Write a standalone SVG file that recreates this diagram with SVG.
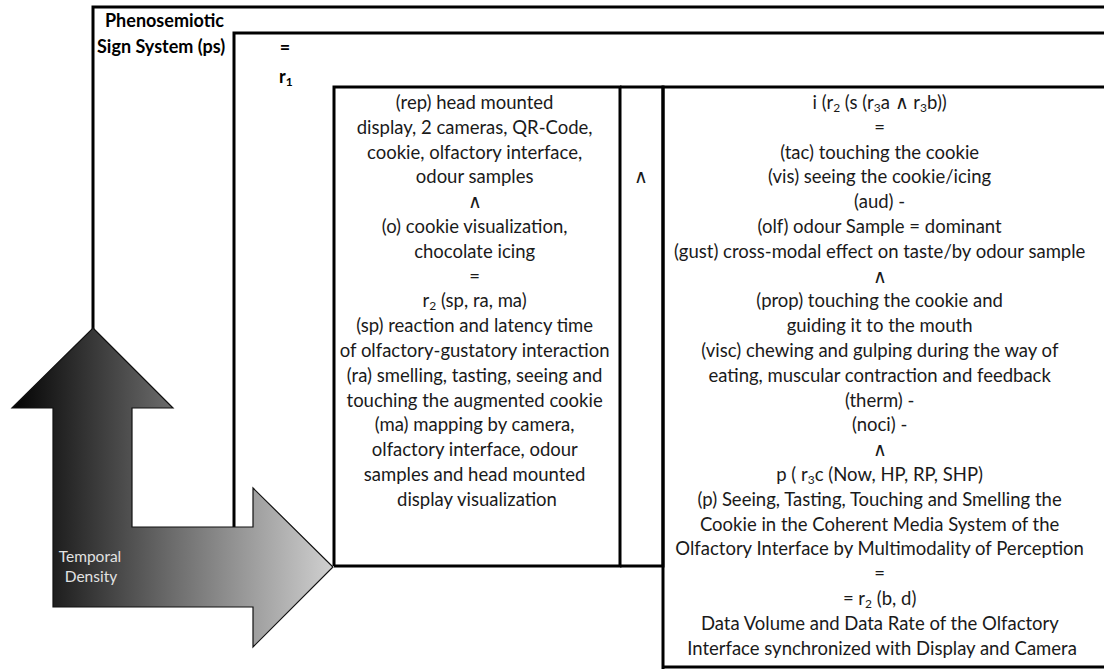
<svg xmlns="http://www.w3.org/2000/svg" width="1104" height="669" viewBox="0 0 1104 669">
<defs>
<linearGradient id="ag" gradientUnits="userSpaceOnUse" x1="12" y1="0" x2="333" y2="0">
<stop offset="0" stop-color="#030303"/>
<stop offset="0.5" stop-color="#6c6c6c"/>
<stop offset="1" stop-color="#d0d0d0"/>
</linearGradient>
<style>
.ln{fill:none;stroke:#000;stroke-width:3}
.t{font-family:Lato,"Open Sans","Liberation Sans",sans-serif;font-size:18.5px;fill:#1a1a1a;text-anchor:middle}
.h{font-family:Lato,"Open Sans","Liberation Sans",sans-serif;font-size:18px;font-weight:bold;fill:#000}
.s{font-size:12px}
</style>
</defs>
<rect width="1104" height="669" fill="#fff"/>
<g id="frame-ps">
<polyline class="ln" points="93,330 93,7 1106,7"/>
<text class="h" x="105" y="27">Phenosemiotic</text>
<text class="h" x="97" y="53">Sign System (ps)</text>
</g>
<g id="frame-r1">
<polyline class="ln" points="234,528 234,33 1106,33"/>
<text class="h" x="285" y="54" text-anchor="middle" font-weight="normal">=</text>
<text class="h" x="279" y="83">r<tspan class="s" baseline-shift="-3">1</tspan></text>
</g>
<g id="box-left">
<polyline class="ln" points="334,566 334,87 620,87 620,566 334,566"/>
<text class="t">
<tspan x="477" y="109">(rep) head mounted</tspan>
<tspan x="477" y="133.8">display, 2 cameras, QR-Code,</tspan>
<tspan x="477" y="158.6">cookie, olfactory interface,</tspan>
<tspan x="477" y="183.4">odour samples</tspan>
<tspan x="477" y="208.2">∧</tspan>
<tspan x="477" y="233">(o) cookie visualization,</tspan>
<tspan x="477" y="257.8">chocolate icing</tspan>
<tspan x="477" y="282.6">=</tspan>
<tspan x="477" y="307.4">r<tspan class="s" baseline-shift="-3">2</tspan> (sp, ra, ma)</tspan>
<tspan x="477" y="332.2">(sp) reaction and latency time</tspan>
<tspan x="477" y="357">of olfactory-gustatory interaction</tspan>
<tspan x="477" y="381.8">(ra) smelling, tasting, seeing and</tspan>
<tspan x="477" y="406.6">touching the augmented cookie</tspan>
<tspan x="477" y="431.4">(ma) mapping by camera,</tspan>
<tspan x="477" y="456.2">olfactory interface, odour</tspan>
<tspan x="477" y="481">samples and head mounted</tspan>
<tspan x="477" y="505.8">display visualization</tspan>
</text>
</g>
<g id="box-mid">
<polyline class="ln" points="620,87 663,87 663,566 620,566"/>
<text class="t" x="641" y="183.4">∧</text>
</g>
<g id="box-right">
<polyline class="ln" points="663,669 663,87 1106,87"/>
<line class="ln" x1="663" y1="667" x2="1106" y2="667"/>
<text class="t">
<tspan x="882" y="109">i (r<tspan class="s" baseline-shift="-3">2</tspan> (s (r<tspan class="s" baseline-shift="-3">3</tspan>a ∧ r<tspan class="s" baseline-shift="-3">3</tspan>b))</tspan>
<tspan x="882" y="133.8">=</tspan>
<tspan x="882" y="158.6">(tac) touching the cookie</tspan>
<tspan x="882" y="183.4">(vis) seeing the cookie/icing</tspan>
<tspan x="882" y="208.2">(aud) -</tspan>
<tspan x="882" y="233">(olf) odour Sample = dominant</tspan>
<tspan x="882" y="257.8">(gust) cross-modal effect on taste/by odour sample</tspan>
<tspan x="882" y="282.6">∧</tspan>
<tspan x="882" y="307.4">(prop) touching the cookie and</tspan>
<tspan x="882" y="332.2">guiding it to the mouth</tspan>
<tspan x="882" y="357">(visc) chewing and gulping during the way of</tspan>
<tspan x="882" y="381.8">eating, muscular contraction and feedback</tspan>
<tspan x="882" y="406.6">(therm) -</tspan>
<tspan x="882" y="431.4">(noci) -</tspan>
<tspan x="882" y="456.2">∧</tspan>
<tspan x="882" y="481">p ( r<tspan class="s" baseline-shift="-3">3</tspan>c (Now, HP, RP, SHP)</tspan>
<tspan x="882" y="505.8">(p) Seeing, Tasting, Touching and Smelling the</tspan>
<tspan x="882" y="530.6">Cookie in the Coherent Media System of the</tspan>
<tspan x="882" y="555.4">Olfactory Interface by Multimodality of Perception</tspan>
<tspan x="882" y="580.2">=</tspan>
<tspan x="882" y="605">= r<tspan class="s" baseline-shift="-3">2</tspan> (b, d)</tspan>
<tspan x="882" y="629.8">Data Volume and Data Rate of the Olfactory</tspan>
<tspan x="882" y="654.6">Interface synchronized with Display and Camera</tspan>
</text>
</g>
<g id="arrow">
<path d="M93,328 L173,408 L132,408 L132,527 L253,527 L253,488 L333,567 L253,647 L253,607 L53,607 L53,408 L12,408 Z" fill="url(#ag)" stroke="#111" stroke-width="1.2" stroke-linejoin="miter"/>
<text font-family="Lato,'Open Sans','Liberation Sans',sans-serif" font-size="15.5" fill="#e2e2e2" text-anchor="middle"><tspan x="90" y="562">Temporal</tspan><tspan x="91" y="582">Density</tspan></text>
</g>
<g id="connectors"/>
</svg>
